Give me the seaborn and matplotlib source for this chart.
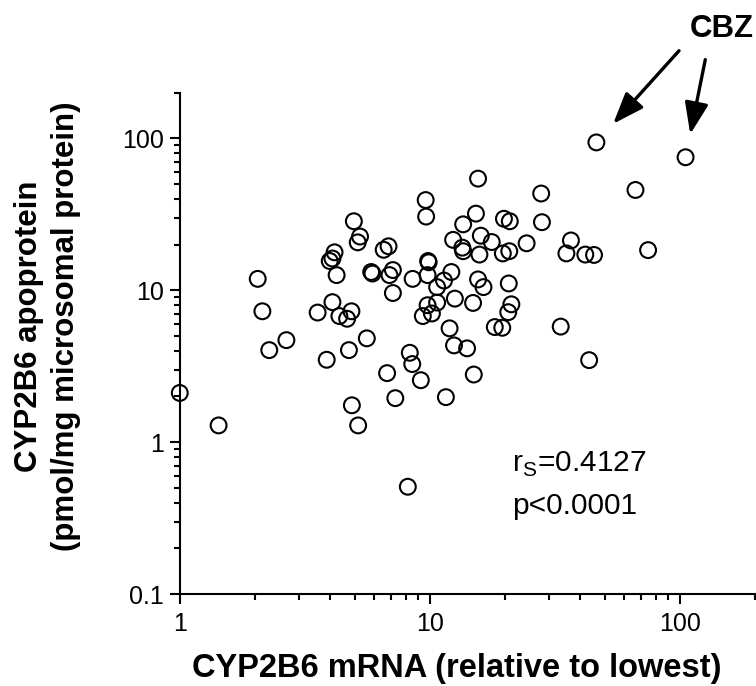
# CYP2B6 apoprotein vs mRNA scatter (log-log)
import matplotlib
matplotlib.use('Agg')
from matplotlib import pyplot as plt
import seaborn as sns
import pandas as pd

# CYP2B6 mRNA (relative to lowest)
mrna = [1.00, 1.43, 2.05, 2.14, 2.28, 2.67, 3.56, 3.87, 3.98, 4.08,
        4.16, 4.24, 4.08, 4.35, 4.67, 4.86, 4.75, 4.88, 5.17, 4.97,
        5.26, 5.15, 5.60, 5.83, 5.90, 6.54, 6.84, 7.12, 6.90, 7.12,
        6.75, 7.28, 8.32, 8.51, 8.17, 8.54, 9.21, 9.63, 9.67, 9.85,
        9.90, 9.80, 9.38, 9.80, 10.2, 10.7, 10.7, 11.4, 12.2, 12.4,
        12.6, 12.0, 12.5, 11.6, 13.6, 13.5, 13.6, 14.1, 15.0, 14.9,
        15.3, 15.6, 16.0, 15.8, 15.6, 16.4, 17.7, 18.2, 19.5, 19.8,
        20.9, 19.6, 20.8, 20.7, 21.2, 20.6, 24.4, 27.9, 28.1, 33.4,
        35.2, 36.7, 41.9, 45.4, 43.4, 46.4, 66.5, 74.7, 105.5]

# CYP2B6 apoprotein (pmol/mg microsomal protein)
protein = [2.11, 1.29, 11.9, 7.28, 4.04, 4.70, 7.14, 3.49, 15.6, 16.2,
           17.8, 12.6, 8.36, 6.77, 6.50, 7.28, 4.04, 1.75, 1.29, 28.5,
           22.6, 20.7, 4.83, 13.2, 12.9, 18.5, 19.5, 13.6, 12.6, 9.6,
           2.85, 1.95, 3.88, 3.27, 0.509, 11.9, 2.56, 39.3, 30.6, 15.6,
           15.3, 12.6, 6.77, 7.98, 7.04, 8.31, 10.5, 11.6, 13.2, 21.5,
           8.82, 5.62, 4.34, 1.98, 27.2, 19.1, 18.1, 4.15, 2.79, 8.26,
           32.0, 54.4, 22.9, 17.2, 11.8, 10.5, 20.8, 5.73, 5.67, 29.6,
           28.5, 17.5, 18.1, 11.1, 8.09, 7.18, 20.4, 43.4, 28.1, 5.77,
           17.5, 21.3, 17.2, 17.1, 3.47, 94.2, 45.8, 18.4, 75.2]

# samples from carbamazepine-treated donors (indices into the lists above)
cbz_idx = [85, 88]

xticks = [1, 10, 100]
xtick_labels = ['1', '10', '100']
yticks = [0.1, 1, 10, 100]
ytick_labels = ['0.1', '1', '10', '100']

df = pd.DataFrame({'mrna': mrna, 'protein': protein})

sns.set_style('ticks')
plt.rcParams['font.family'] = ['Liberation Sans', 'DejaVu Sans']
plt.rcParams['text.color'] = 'black'
plt.rcParams['axes.labelcolor'] = 'black'
plt.rcParams['xtick.color'] = 'black'
plt.rcParams['ytick.color'] = 'black'

fig = plt.figure(figsize=(7.56, 6.86), dpi=100)
ax = fig.add_axes([0.2378, 0.1340, 0.7609, 0.7308])

sns.scatterplot(data=df, x='mrna', y='protein', ax=ax, s=130, marker='o',
                facecolor='none', edgecolor='black', linewidth=1.5,
                clip_on=False, zorder=3)

ax.set_xscale('log')
ax.set_yscale('log')
ax.set_xlim(1, 200)
ax.set_ylim(0.1, 200)
ax.set_xticks(xticks, xtick_labels)
ax.set_yticks(yticks, ytick_labels)
ax.xaxis.set_minor_formatter(plt.NullFormatter())
ax.yaxis.set_minor_formatter(plt.NullFormatter())

sns.despine(ax=ax)
for side in ['left', 'bottom']:
    ax.spines[side].set_linewidth(1.5)
    ax.spines[side].set_color('black')
ax.tick_params(which='major', length=7.2, width=1.5, labelsize=18)
ax.tick_params(which='minor', length=4.2, width=1.5)
ax.tick_params(axis='x', which='major', pad=6)
ax.tick_params(axis='y', which='major', pad=4)

ax.set_xlabel('CYP2B6 mRNA (relative to lowest)', fontsize=23.5,
              fontweight='bold')
ax.xaxis.set_label_coords(0.482, -0.118)
ax.set_ylabel('CYP2B6 apoprotein\n(pmol/mg microsomal protein)', fontsize=22.5,
              fontweight='bold', linespacing=1.3)
ax.yaxis.set_label_coords(-0.172, 0.535)

ax.text(0.577, 0.2435, r'r$_\mathregular{S}$=0.4127', transform=ax.transAxes,
        fontsize=21.5, va='baseline')
ax.text(0.577, 0.160, 'p<0.0001', transform=ax.transAxes,
        fontsize=21.5, va='baseline')

# CBZ arrows
arrow_offsets = [(59.5, 66.0), (14.2, 70.3)]
arrow_shrink = [18, 17]
for i, off, sb in zip(cbz_idx, arrow_offsets, arrow_shrink):
    ax.annotate('', xy=(mrna[i], protein[i]), xytext=off,
                textcoords='offset points', annotation_clip=False,
                arrowprops=dict(arrowstyle='-|>,head_length=0.8,head_width=0.3',
                                mutation_scale=24, lw=2.4, color='black',
                                shrinkA=0, shrinkB=sb))
fig.text(0.955, 0.9465, 'CBZ', ha='center', va='baseline', fontsize=22.5,
         fontweight='bold')

fig.savefig('out.png', dpi=100)
